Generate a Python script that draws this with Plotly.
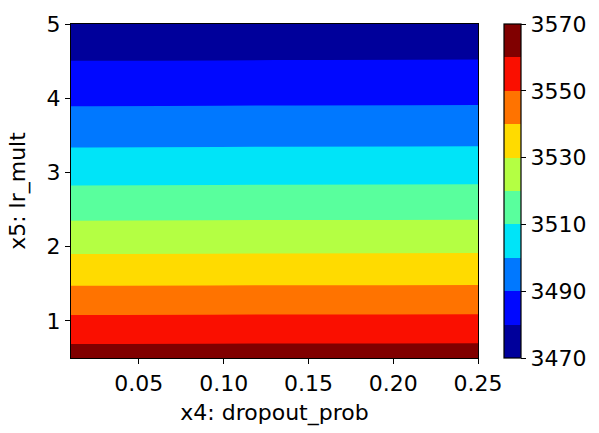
import plotly.graph_objects as go

# ---- data ----
dropout_prob = [0.01, 0.13, 0.25]
lr_mult = [0.5, 1.0, 1.5, 2.0, 2.5, 3.0, 3.5, 4.0, 4.5, 5.0]
z_at_x001 = [3564.8, 3552.0, 3539.3, 3527.7, 3516.7, 3506.4, 3496.9, 3488.1, 3480.05, 3472.6]
z_at_x013 = [3565.0, 3552.2, 3539.5, 3527.9, 3516.9, 3506.6, 3497.1, 3488.3, 3480.2, 3472.8]
z_at_x025 = [3565.1, 3552.3, 3539.6, 3528.0, 3517.0, 3506.7, 3497.2, 3488.4, 3480.3, 3472.9]
level_start, level_end, level_step = 3470, 3570, 10
cbar_ticks = [3470, 3490, 3510, 3530, 3550, 3570]
x_ticks = [0.05, 0.10, 0.15, 0.20, 0.25]
y_ticks = [1, 2, 3, 4, 5]
band_colors = ["#00009b", "#0008ff", "#0078ff", "#00e4f8", "#59ff9d",
               "#b4ff43", "#ffdb00", "#ff7300", "#fa0f00", "#800000"]

z = [[a, b, c] for a, b, c in zip(z_at_x001, z_at_x013, z_at_x025)]
n = len(band_colors)

# stepped colorscale for the contour fills: plotly maps [0,1] to [start - step/2, end + step/2]
span = (n + 1) * level_step
cscale = []
for k, col in enumerate(band_colors):
    lo = 0.0 if k == 0 else (level_step / 2 + k * level_step) / span
    hi = 1.0 if k == n - 1 else (level_step / 2 + (k + 1) * level_step) / span
    cscale.append([lo, col])
    cscale.append([hi, col])

# stepped colorscale for the colorbar, exactly from start to end
cbar_scale = []
for k, col in enumerate(band_colors):
    cbar_scale.append([k / n, col])
    cbar_scale.append([(k + 1) / n, col])

FONT = "DejaVu Sans"
FS = 22

fig = go.Figure()
fig.add_trace(go.Contour(
    x=dropout_prob, y=lr_mult, z=z,
    colorscale=cscale, showscale=False,
    contours=dict(start=level_start, end=level_end, size=level_step,
                  coloring="fill", showlines=False),
    line=dict(width=0, smoothing=0), hoverinfo="skip",
))
fig.add_trace(go.Scatter(
    x=[dropout_prob[1]], y=[lr_mult[4]], mode="markers", hoverinfo="skip",
    showlegend=False,
    marker=dict(size=0.1, opacity=0, color=[level_start], colorscale=cbar_scale,
                cmin=level_start, cmax=level_end, showscale=True,
                colorbar=dict(
                    x=1.0637, xanchor="left", xpad=0, y=0.5, yanchor="middle",
                    len=1, lenmode="fraction", ypad=0, thickness=17,
                    outlinecolor="black", outlinewidth=1.2,
                    tickmode="array", tickvals=cbar_ticks,
                    ticks="outside", ticklen=5, tickwidth=1.2, tickcolor="black",
                    tickfont=dict(family=FONT, size=FS, color="black"),
                )),
))

fig.update_layout(
    width=599, height=433,
    margin=dict(l=71, r=120, t=20, b=74, pad=0),
    paper_bgcolor="white", plot_bgcolor="white",
    font=dict(family=FONT, size=FS, color="black"),
    showlegend=False,
    xaxis=dict(
        range=[0.01, 0.25], tickvals=x_ticks, tickformat=".2f",
        ticks="outside", ticklen=5, tickwidth=1.2, tickcolor="black",
        showline=True, linecolor="black", linewidth=1.2, mirror=True,
        showgrid=False, zeroline=False,
        title=dict(text="x4: dropout_prob", standoff=10,
                   font=dict(family=FONT, size=FS, color="black")),
    ),
    yaxis=dict(
        range=[0.5, 5.0], tickvals=y_ticks,
        ticks="outside", ticklen=5, tickwidth=1.2, tickcolor="black",
        showline=True, linecolor="black", linewidth=1.2, mirror=True,
        showgrid=False, zeroline=False,
        title=dict(text="x5: lr_mult", standoff=14,
                   font=dict(family=FONT, size=FS, color="black")),
    ),
)

fig.write_html("out.html", config={"displayModeBar": False},
               post_script="document.body.style.margin='0px';")
